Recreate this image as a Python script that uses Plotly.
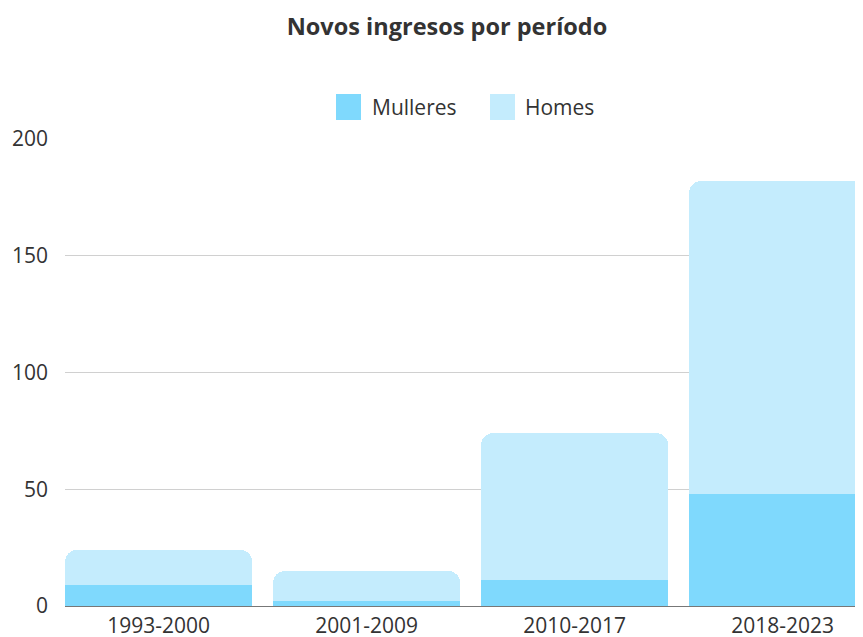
import plotly.graph_objects as go

categories = ["1993-2000", "2001-2009", "2010-2017", "2018-2023"]
mulleres = [9, 2, 11, 48]
homes = [15, 13, 63, 134]
series_names = ["Mulleres", "Homes"]
colors = ["#7fd9fd", "#c4ecfd"]
title = "Novos ingresos por período"
y_ticks = [0, 50, 100, 150, 200]

FONT = "'Open Sans', Lato, sans-serif"
OFF = 8  # page body margin offset

fig = go.Figure()
for name, vals, col in zip(series_names, [mulleres, homes], colors):
    fig.add_trace(go.Bar(
        x=list(range(len(categories))), y=vals, name=name,
        marker=dict(color=col, line=dict(width=0)),
        showlegend=False,
    ))

W, H = 863 - OFF, 637 - OFF
L, R, T, B = 65 - OFF, 0, 139 - OFF, 31
pw = W - L - R
ph = H - T - B

# custom legend (large square swatches); window pixel coordinates
legend_x = [336, 490]
text_x = [370, 523]
for i, (name, col) in enumerate(zip(series_names, colors)):
    fig.add_shape(type="rect", xref="paper", yref="paper",
                  x0=(legend_x[i] - 65) / pw, x1=(legend_x[i] + 25 - 65) / pw,
                  y0=1 + (139 - 120) / ph, y1=1 + (139 - 94) / ph,
                  fillcolor=col, line=dict(width=0))
    fig.add_annotation(text=name, xref="paper", yref="paper",
                       x=(text_x[i] - 65) / pw, y=1 + (139 - 107) / ph,
                       xanchor="left", yanchor="middle", showarrow=False,
                       font=dict(family=FONT, size=21, color="#333"))

fig.update_layout(
    width=W, height=H,
    margin=dict(l=L, r=R, t=T, b=B, autoexpand=False),
    barmode="stack", bargap=0.1, barcornerradius=12,
    plot_bgcolor="white", paper_bgcolor="white",
    title=dict(text="<b>" + title + "</b>", x=(447 - OFF) / W, xanchor="center",
               y=1 - (27 - OFF) / H, yanchor="middle",
               font=dict(family=FONT, size=23.5, color="#333")),
    font=dict(family=FONT, size=18, color="#333"),
    xaxis=dict(range=[-0.45, -0.45 + pw / 208], tickmode="array",
               tickvals=list(range(len(categories))), ticktext=categories,
               showgrid=False, zeroline=False, showline=False, automargin=False,
               ticks="", ticklabelstandoff=5,
               tickfont=dict(size=21, color="#333")),
    yaxis=dict(range=[0, 200], tickvals=y_ticks, showgrid=True, automargin=False,
               gridcolor="#d0d0d0", gridwidth=1, zeroline=True,
               zerolinecolor="#777", zerolinewidth=1, showline=False,
               ticks="", ticklabelstandoff=16,
               tickfont=dict(size=21, color="#333")),
)

fig.write_html("out.html")
